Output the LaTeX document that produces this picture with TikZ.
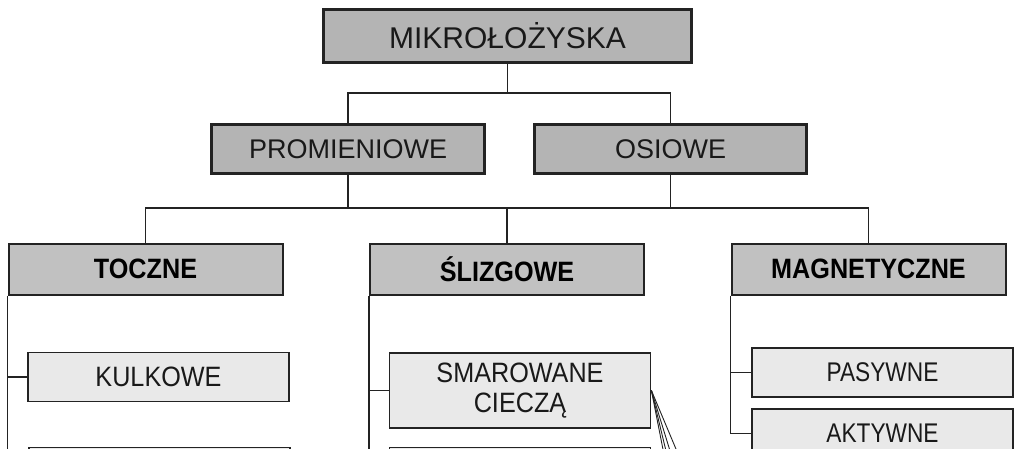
\documentclass[tikz,border=0pt]{standalone}
\usepackage{fontspec}
\setmainfont{Liberation Sans}
\newfontfamily\narrowfont{Liberation Sans}[FakeStretch=0.9]
\newfontfamily\slimfont{Liberation Sans}[FakeStretch=0.84]
\definecolor{topgray}{RGB}{180,180,180}
\definecolor{midgray}{RGB}{193,193,193}
\definecolor{leafgray}{RGB}{233,233,233}
\definecolor{edgegray}{RGB}{35,35,35}
\begin{document}
\begin{tikzpicture}[x=1pt,y=-1pt,
  topbox/.style={draw=edgegray, line width=3pt, fill=topgray, inner sep=0pt, text=black!90},
  midbox/.style={draw=edgegray, line width=2pt, fill=midgray, inner sep=0pt, minimum width=274pt, minimum height=51pt,
    font=\narrowfont\bfseries\fontsize{28}{30}\selectfont},
  leafbox/.style={draw=edgegray, line width=1.8pt, fill=leafgray, inner sep=0pt, minimum width=261pt, text=black!90,
    font=\narrowfont\fontsize{28}{30}\selectfont},
  conn/.style={draw=edgegray, line width=1.4pt},
  fan/.style={draw=edgegray, line width=0.9pt}]
\path[fill=white, use as bounding box] (0,0) rectangle (1024,449);
\clip (0,0) rectangle (1024,449);

% poziom 1 i 2
\node[topbox, minimum width=368pt, minimum height=53pt, font=\fontsize{30}{32}\selectfont] (root) at (507.5,36) {MIKROŁOŻYSKA};
\node[topbox, minimum width=273pt, minimum height=49pt, font=\fontsize{27}{29}\selectfont] (prom) at (348,149) {PROMIENIOWE};
\node[topbox, minimum width=272pt, minimum height=49pt, font=\fontsize{27}{29}\selectfont] (osiowe) at (670.5,149) {OSIOWE};

% poziom 3
\node[midbox] (toczne) at (145.5,269) {TOCZNE};
\node[midbox] (slizg) at (507,269) {ŚLIZGOWE};
\node[midbox] (magn) at (868.5,269) {MAGNETYCZNE};

% liscie
\node[leafbox, minimum height=49pt] (kulkowe) at (158.5,377) {KULKOWE};
\node[leafbox, minimum height=49pt] (kulkowe2) at (159.5,472) {};
\node[leafbox, minimum height=75pt, align=center] (smar) at (520,390.5) {SMAROWANE\\CIECZĄ};
\node[leafbox, minimum height=49pt] (smar2) at (520,472) {};
\node[leafbox, minimum height=49pt, font=\slimfont\fontsize{27}{29}\selectfont] (pasywne) at (882.5,372.5) {PASYWNE};
\node[leafbox, minimum height=49pt, font=\slimfont\fontsize{27}{29}\selectfont] (aktywne) at (882.5,433.5) {AKTYWNE};

% polaczenia
\coordinate (j1) at (509,93);
\coordinate (j2) at (0,208);
\coordinate (dol) at (0,480);
\draw[conn] (root.south) -- (root.south |- j1);
\draw[conn] (prom.north) |- (osiowe.north |- j1) -- (osiowe.north);
\draw[conn] (prom.south) -- (prom.south |- j2);
\draw[conn] (osiowe.south) -- (osiowe.south |- j2);
\draw[conn] (toczne.north) |- (magn.north |- j2) -- (magn.north);
\draw[conn] (slizg.north) -- (slizg.north |- j2);

\draw[conn] (toczne.south west) -- (toczne.south west |- dol);
\draw[conn] (toczne.south west |- kulkowe) -- (kulkowe.west);
\draw[conn] (slizg.south west) -- (slizg.south west |- dol);
\draw[conn] (slizg.south west |- smar) -- (smar.west);
\draw[conn] (magn.south west) |- (aktywne.west);
\draw[conn] (magn.south west |- pasywne) -- (pasywne.west);

\coordinate (f1) at (669,480);
\coordinate (f2) at (673,480);
\coordinate (f3) at (679,480);
\coordinate (f4) at (689,480);
\foreach \f in {f1,f2,f3,f4}
  \draw[fan] (smar.east) -- (\f);
\end{tikzpicture}
\end{document}
